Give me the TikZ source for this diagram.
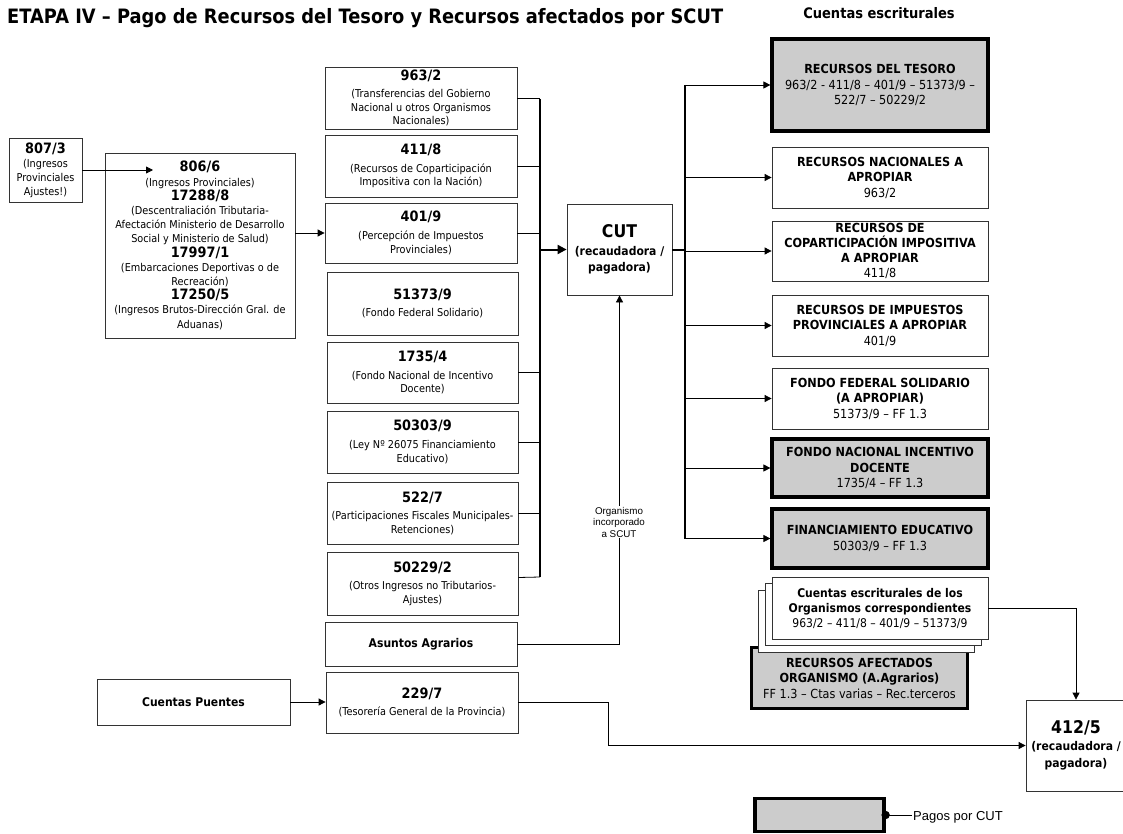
\documentclass[tikz,border=0pt]{standalone}
\usepackage{fontspec}
\setmainfont{DejaVu Sans}[FakeStretch=0.9]
\newfontfamily\arialf{Liberation Sans}
\usetikzlibrary{arrows.meta}
\definecolor{gfill}{RGB}{204,204,204}
\newcommand\cd[1]{{\fontsize{14.3}{13.6}\selectfont\bfseries #1}}
\begin{document}
\begin{tikzpicture}[x=1pt,y=-1pt,
  box/.style={draw=black!80, line width=0.8pt, fill=white, align=center, inner sep=0pt, font=\fontsize{10.8}{13.6}\selectfont},
  rbox/.style={box, font=\fontsize{12.5}{15.5}\selectfont},
  gbox/.style={draw=black, line width=3.2pt, fill=gfill, align=center, inner sep=0pt, font=\fontsize{12.5}{15.5}\selectfont},
  conn/.style={line width=0.8pt, black},
  arr/.style={conn, -{Triangle[length=7pt,width=7pt]}},
  busline/.style={line width=2pt, black},
  lbl/.style={font=\arialf\fontsize{9.8}{11.5}\selectfont, align=center, fill=white, inner sep=1pt}
]
\useasboundingbox (0,0) rectangle (1123,834);

% titles
\node[anchor=west, inner sep=0pt, font=\fontsize{19.8}{21}\selectfont\bfseries] (title) at (7,18) {ETAPA IV – Pago de Recursos del Tesoro y Recursos afectados por SCUT};
\node[inner sep=0pt, font=\fontsize{14.5}{15}\selectfont\bfseries] (hdr) at (879,13) {Cuentas escriturales};

% left boxes
\node[box, minimum width=73, minimum height=64] (n807) at (45.5,170) {\cd{807/3}\\[1pt](Ingresos\\Provinciales\\Ajustes!)};
\node[box, minimum width=190, minimum height=185, font=\fontsize{10.8}{14.2}\selectfont] (n806) at (200,245.5)
 {\cd{806/6}\\(Ingresos Provinciales)\\\cd{17288/8}\\(Descentraliación Tributaria-\\Afectación Ministerio de Desarrollo\\Social y Ministerio de Salud)\\\cd{17997/1}\\(Embarcaciones Deportivas o de\\Recreación)\\\cd{17250/5}\\(Ingresos Brutos-Dirección Gral. de\\Aduanas)};
\node[box, minimum width=193, minimum height=46, font=\fontsize{12}{14}\selectfont\bfseries] (cp) at (193.5,702) {Cuentas Puentes};

% middle column
\node[box, minimum width=192, minimum height=62] (m963) at (421,98) {\cd{963/2}\\[4pt](Transferencias del Gobierno\\Nacional u otros Organismos\\Nacionales)};
\node[box, minimum width=192, minimum height=62] (m411) at (421,166) {\cd{411/8}\\[4pt](Recursos de Coparticipación\\Impositiva con la Nación)};
\node[box, minimum width=192, minimum height=60] (m401) at (421,233) {\cd{401/9}\\[4pt](Percepción de Impuestos\\Provinciales)};
\node[box, minimum width=191, minimum height=63] (m51373) at (422.5,303.5) {\cd{51373/9}\\[4pt](Fondo Federal Solidario)};
\node[box, minimum width=191, minimum height=61] (m1735) at (422.5,372.5) {\cd{1735/4}\\[4pt](Fondo Nacional de Incentivo\\Docente)};
\node[box, minimum width=191, minimum height=62] (m50303) at (422.5,442) {\cd{50303/9}\\[4pt](Ley Nº 26075 Financiamiento\\Educativo)};
\node[box, minimum width=191, minimum height=62] (m522) at (422.5,513) {\cd{522/7}\\[4pt](Participaciones Fiscales Municipales-\\Retenciones)};
\node[box, minimum width=191, minimum height=63] (m50229) at (422.5,583.5) {\cd{50229/2}\\[4pt](Otros Ingresos no Tributarios-\\Ajustes)};
\node[box, minimum width=192, minimum height=44, font=\fontsize{12}{14}\selectfont\bfseries] (asu) at (421,644) {Asuntos Agrarios};
\node[box, minimum width=192, minimum height=61] (m229) at (422,702.5) {\cd{229/7}\\[4pt](Tesorería General de la Provincia)};

% CUT
\node[box, minimum width=105, minimum height=91, font=\fontsize{12}{16}\selectfont\bfseries] (cut) at (619.5,249.5) {{\fontsize{17.5}{18}\selectfont CUT}\\[2pt](recaudadora /\\pagadora)};

% right column
\node[gbox, minimum width=216, minimum height=92] (tes) at (880,85) {\textbf{RECURSOS DEL TESORO}\\963/2 - 411/8 – 401/9 – 51373/9 –\\522/7 – 50229/2};
\node[rbox, minimum width=216, minimum height=61] (nac) at (880,177.5) {\textbf{RECURSOS NACIONALES A}\\\textbf{APROPIAR}\\963/2};
\node[rbox, minimum width=216, minimum height=60, font=\fontsize{12.5}{15}\selectfont] (cop) at (880,251) {\textbf{RECURSOS DE}\\\textbf{COPARTICIPACIÓN IMPOSITIVA}\\\textbf{A APROPIAR}\\411/8};
\node[rbox, minimum width=216, minimum height=61] (imp) at (880,325.5) {\textbf{RECURSOS DE IMPUESTOS}\\\textbf{PROVINCIALES A APROPIAR}\\401/9};
\node[rbox, minimum width=216, minimum height=61] (ffs) at (880,398.5) {\textbf{FONDO FEDERAL SOLIDARIO}\\\textbf{(A APROPIAR)}\\51373/9 – FF 1.3};
\node[gbox, minimum width=216, minimum height=58] (fnid) at (880,468) {\textbf{FONDO NACIONAL INCENTIVO}\\\textbf{DOCENTE}\\1735/4 – FF 1.3};
\node[gbox, minimum width=216, minimum height=59] (fin) at (880,538.5) {\textbf{FINANCIAMIENTO EDUCATIVO}\\50303/9 – FF 1.3};

% afectados + stack
\node[gbox, minimum width=216, minimum height=61] (afe) at (859.5,678) {\textbf{RECURSOS AFECTADOS}\\\textbf{ORGANISMO (A.Agrarios)}\\FF 1.3 – Ctas varias – Rec.terceros};
\node[box, minimum width=216, minimum height=62] (cs3) at (866,621) {};
\node[box, minimum width=216, minimum height=62] (cs2) at (873,614.5) {};
\node[rbox, minimum width=216, minimum height=62, font=\fontsize{12}{15}\selectfont] (cs1) at (880,608) {\textbf{Cuentas escriturales de los}\\\textbf{Organismos correspondientes}\\963/2 – 411/8 – 401/9 – 51373/9};

% 412/5
\node[box, minimum width=100, minimum height=91, font=\fontsize{12}{17}\selectfont\bfseries] (r412) at (1076,745.5) {{\fontsize{17.5}{18}\selectfont 412/5}\\(recaudadora /\\pagadora)};

% legend
\node[gbox, minimum width=129, minimum height=33] (leg) at (819.5,815) {};
\node[anchor=west, inner sep=1pt, font=\arialf\fontsize{13}{14}\selectfont] (legt) at (912,817) {Pagos por CUT};

% ---- connectors
\coordinate (t806) at (153,170);
\draw[arr] (n807.east) -- (t806);
\draw[arr] (m401.west -| n806.east) -- (m401.west);
\draw[arr] (cp.east) -- (cp.east -| m229.west);

% left bus
\coordinate (bx) at (540,0);
\coordinate (bt) at (540,99);
\coordinate (bb) at (540,577);
\draw[busline] (bt) -- (bb);
\draw[conn] (m963.east) -- (m963.east -| bx);
\draw[conn] (m411.east) -- (m411.east -| bx);
\draw[conn] (m401.east) -- (m401.east -| bx);
\draw[conn] (m1735.east) -- (m1735.east -| bx);
\draw[conn] (m50303.east) -- (m50303.east -| bx);
\draw[conn] (m522.east) -- (m522.east -| bx);
\draw[conn] ([yshift=6pt]m50229.east) -- (bb);
\draw[busline, -{Triangle[length=9pt,width=9pt]}] (cut.west -| bx) -- (cut.west);

% Asuntos -> CUT
\draw[arr] (asu.east) -| (cut.south);
\node[lbl] (lab) at (619,522) {Organismo\\incorporado\\a SCUT};

% right bus
\coordinate (rx) at (685,0);
\coordinate (rt) at (685,85);
\coordinate (rb) at (685,538.5);
\draw[busline] (cut.east) -- (cut.east -| rx);
\draw[busline] (rt) -- (rb);
\draw[arr] (tes.west -| rx) -- (tes.west);
\draw[arr] (nac.west -| rx) -- (nac.west);
\draw[arr] (cop.west -| rx) -- (cop.west);
\draw[arr] (imp.west -| rx) -- (imp.west);
\draw[arr] (ffs.west -| rx) -- (ffs.west);
\draw[arr] (fnid.west -| rx) -- (fnid.west);
\draw[arr] (fin.west -| rx) -- (fin.west);

% to 412/5
\draw[arr] (cs1.east) -| (r412.north);
\coordinate (k1) at (608,0);
\draw[arr] (m229.east) -- (m229.east -| k1) |- (r412.west);

% legend connector
\fill (leg.east) circle (4.2);
\draw[conn] (leg.east) -- (leg.east -| legt.west);
\end{tikzpicture}
\end{document}
